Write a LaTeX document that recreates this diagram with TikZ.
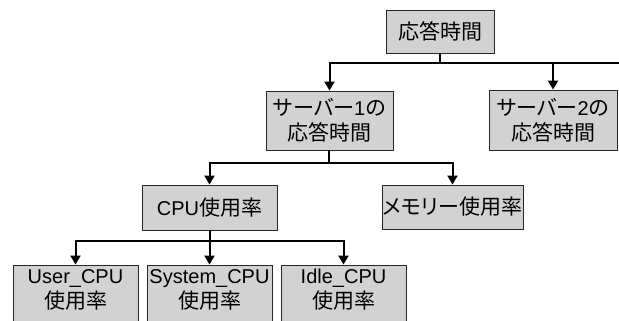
\documentclass[tikz,border=0pt]{standalone}
\usepackage{fontspec}
\setmainfont{Liberation Sans}
\newfontfamily\cjk[Scale=1.05]{Noto Sans CJK JP}
\newfontfamily\kana[Scale=1.05,RawFeature={+palt}]{Noto Sans CJK JP}
\usetikzlibrary{arrows.meta}
\tikzset{
  box/.style={draw=black!85, line width=0.9pt, fill=gray!35, inner sep=0pt,
    align=center, font=\fontsize{20}{25}\selectfont},
  lbl/.style={align=center, font=\fontsize{20}{25}\selectfont, inner sep=0pt},
  conn/.style={line width=2pt, black},
  arr/.style={conn, -{Triangle[length=9pt,width=10pt]}},
}
\begin{document}
\begin{tikzpicture}[x=1pt,y=-1pt]
\useasboundingbox (0,0) rectangle (619,321);
\clip (0,0) rectangle (619,321);
\node[box, minimum width=108pt, minimum height=43pt] (top) at (440,31.5) {\cjk 応答時間};
\node[box, minimum width=127pt, minimum height=59pt] (s1) at (329.5,120.5) {{\kana サーバー}1{\kana の}\\{\cjk 応答時間}};
\node[box, minimum width=128pt, minimum height=60pt] (s2) at (553,120) {{\kana サーバー}2{\kana の}\\{\cjk 応答時間}};
\node[box, minimum width=135pt, minimum height=45pt] (cpu) at (209.5,207.5) {CPU{\cjk 使用率}};
\node[box, minimum width=141pt, minimum height=44pt] (mem) at (452.5,207) {{\kana メモリー}{\cjk 使用率}};
\node[box, minimum width=125pt, minimum height=80pt] (u) at (75.5,305) {};
\node[box, minimum width=125pt, minimum height=80pt] (sy) at (209.5,305) {};
\node[box, minimum width=125pt, minimum height=80pt] (id) at (343.5,305) {};
\node[lbl, anchor=north] (ut) at (75.5,269) {User\_CPU\\{\cjk 使用率}};
\node[lbl, anchor=north] (syt) at (209.5,269) {System\_CPU\\{\cjk 使用率}};
\node[lbl, anchor=north] (idt) at (343.5,269) {Idle\_CPU\\{\cjk 使用率}};
\coordinate (h1) at (440,63);
\coordinate (h1r) at (620,63);
\draw[conn] (top.south) -- (h1);
\draw[conn] (h1r) -- (h1);
\draw[arr] (h1) -| (s1.north);
\draw[arr] (h1) -| (s2.north);
\coordinate (h2) at (329,163);
\draw[conn] (s1.south -| h2) -- (h2);
\draw[arr] (h2) -| (cpu.north);
\draw[arr] (h2) -| (mem.north);
\coordinate (h3) at (209.5,241);
\draw[conn] (cpu.south) -- (h3);
\draw[arr] (h3) -| (u.north);
\draw[arr] (h3) -- (sy.north);
\draw[arr] (h3) -| (id.north);
\end{tikzpicture}
\end{document}
